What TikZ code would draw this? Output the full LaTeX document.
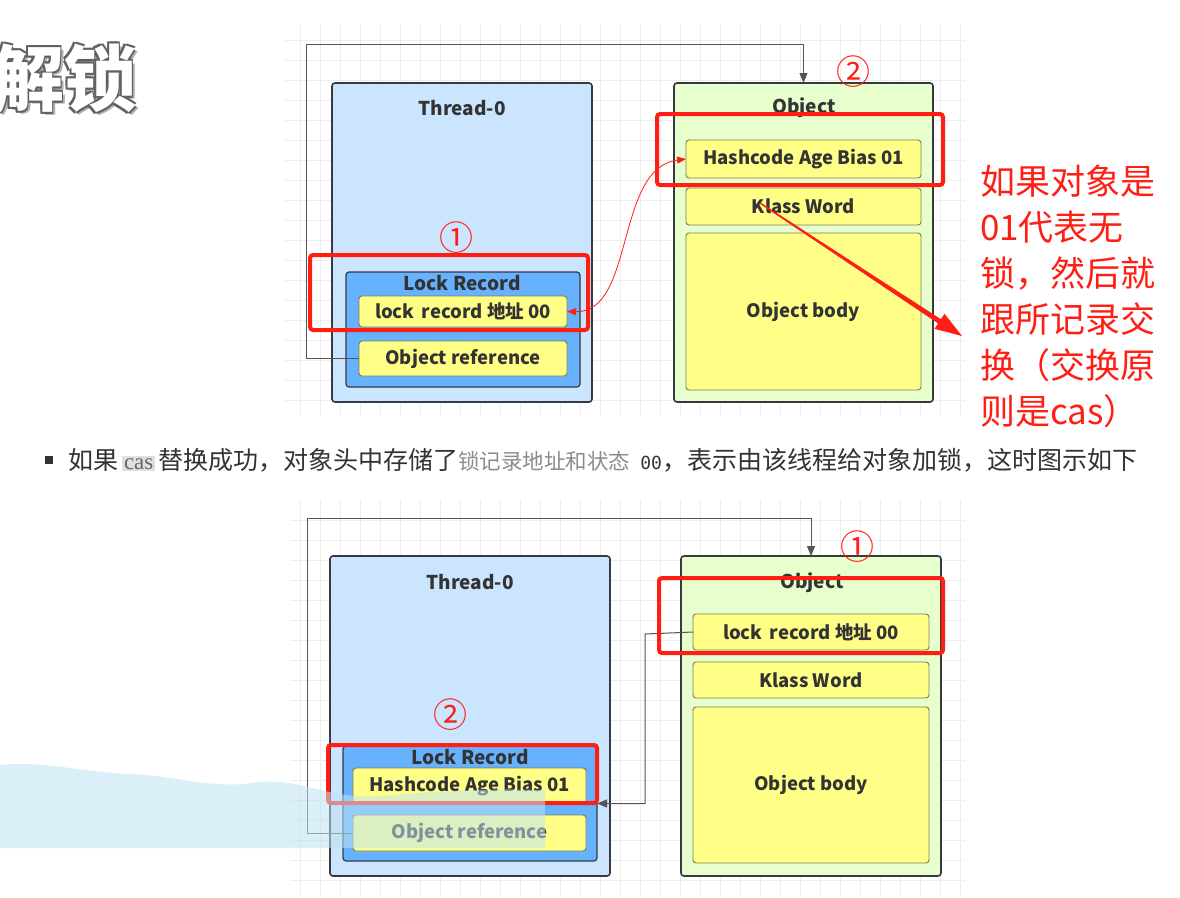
\documentclass[tikz,border=0pt]{standalone}
\usepackage{fontspec}
\setmainfont{Noto Sans CJK SC}
\newfontfamily\monof{DejaVu Sans Mono}
\newfontfamily\serf{Liberation Serif}
\usetikzlibrary{arrows.meta}
\definecolor{threadc}{HTML}{CCE5FF}
\definecolor{lockc}{HTML}{66B2FF}
\definecolor{fieldc}{HTML}{FFFF88}
\definecolor{fieldedge}{HTML}{7A7A55}
\definecolor{objc}{HTML}{E6FFCC}
\definecolor{edge}{HTML}{36393D}
\definecolor{txt}{HTML}{333333}
\definecolor{redc}{HTML}{FF1E14}
\definecolor{gridc}{HTML}{EDEDED}
\definecolor{connc}{HTML}{555555}
\definecolor{cloudc}{HTML}{BFE3F3}
\tikzset{
 every node/.style={inner sep=0pt, outer sep=0pt},
 box/.style={draw=edge, rounded corners=3pt, anchor=north west, font=\bfseries\fontsize{18.5}{20}\selectfont, text=txt},
 thread/.style={box, fill=threadc, line width=1.6pt},
 lockrec/.style={box, fill=lockc, line width=1.2pt},
 field/.style={box, fill=fieldc, line width=0.9pt, draw=fieldedge},
 object/.style={box, fill=objc, line width=1.6pt},
 title/.style={font=\bfseries\fontsize{19}{20}\selectfont, text=txt},
 redbox/.style={draw=redc, line width=4pt, rounded corners=3pt},
 circnum/.style={text=redc, font=\fontsize{34}{34}\selectfont},
 conn/.style={draw=connc, line width=1pt},
 arrowhd/.style={-{Triangle[length=10pt,width=8pt]}},
 redtext/.style={text=redc, font=\fontsize{35}{46}\selectfont, align=left, anchor=north west},
 gridlines/.style={draw=gridc, line width=0.7pt},
 titlefont/.style={anchor=east, font=\bfseries\fontsize{72}{72}\selectfont}
}
\begin{document}
\begin{tikzpicture}[x=1pt,y=-1pt]
\useasboundingbox (0,0) rectangle (1180,897);
\fill[white] (0,0) rectangle (1180,897);

% title with dark outline shadow
\node[titlefont, text=black!30] (tsh0) at (139.5,81.5) {解锁};
\foreach \dx/\dy [count=\i] in {-1.8/-1.8,1.8/-1.8,-1.8/1.8,1.8/1.8}{
  \node[titlefont, text=black!62] (tsh\i) at (136+\dx,78+\dy) {解锁};
}
\node[titlefont, text=white] (ttl) at (136,78) {解锁};

% ================= top diagram =================
\foreach \gx in {300,320,...,960} {\draw[gridlines] (\gx,25) -- (\gx,415);}
\foreach \gy in {40,60,...,400} {\draw[gridlines] (285,\gy) -- (965,\gy);}

\node[thread, minimum width=260, minimum height=319] (thr1) at (332,83) {};
\node[title] (thr1t) at (462,108) {Thread-0};
\node[lockrec, minimum width=234, minimum height=115] (lrec1) at (346,272) {};
\node[title] (lrec1t) at (462,283) {Lock Record};
\node[field, minimum width=208, minimum height=31] (lr1) at (359,296) {lock\ \,record 地址 00};
\node[field, minimum width=208, minimum height=35] (oref1) at (359,341) {Object reference};

\node[object, minimum width=259, minimum height=319] (obj1) at (674,83) {};
\node[title] (obj1t) at (804,108) {Object};
\node[field, minimum width=235, minimum height=38] (hc1) at (686,140) {Hashcode Age Bias 01};
\node[field, minimum width=235, minimum height=37] (kw1) at (686,188) {Klass Word};
\node[field, minimum width=235, minimum height=157] (ob1) at (686,233) {Object body};

\coordinate (c1) at (306,44);
\draw[conn, arrowhd] (oref1.west) -| (c1) -| (obj1.north);

\draw[redc, line width=0.8pt, {Triangle[length=9pt,width=7pt]}-{Triangle[length=9pt,width=7pt]}]
  (lr1.east) .. controls (635,313) and (615,168) .. (hc1.west);

% thick tapered arrow
\fill[redc] (759.6,203.6) -- (938.1,323.4) -- (934.5,328.8) -- (962,336) -- (944.5,313.8) -- (940.9,319.2) -- (760.4,202.4) -- cycle;

\draw[redbox] (310,255) rectangle (588,330);
\draw[redbox] (657,114) rectangle (943,185);
\node[circnum] (n1a) at (456,238) {①};
\node[circnum] (n2a) at (853,72) {②};

\node[redtext] (rt) at (980,165) {如果对象是\\01代表无\\锁，然后就\\跟所记录交\\换（交换原\\则是cas）};

% ================= middle text =================
\fill[txt] (45,456) rectangle (53,464);
\node[anchor=west, text=txt, font=\fontsize{25}{28}\selectfont] (mid) at (68,460)
 {如果\hspace{4pt}{\setlength\fboxsep{2pt}\colorbox{black!12}{\serf\color{black!60}\fontsize{23}{24}\selectfont cas}}\hspace{3pt}替换成功，对象头中存储了{\color{black!45}\fontsize{21.5}{24}\selectfont 锁记录地址和状态}\hspace{10pt}{\monof\fontsize{18}{20}\selectfont 00}，表示由该线程给对象加锁，这时图示如下};

% ================= bottom diagram =================
\foreach \gx in {300,320,...,960} {\draw[gridlines] (\gx,500) -- (\gx,895);}
\foreach \gy in {520,540,...,880} {\draw[gridlines] (290,\gy) -- (965,\gy);}

\node[thread, minimum width=280, minimum height=320] (thr2) at (330,556) {};
\node[title] (thr2t) at (470,582) {Thread-0};
\node[lockrec, minimum width=254, minimum height=115] (lrec2) at (343,746) {};
\node[title] (lrec2t) at (470,757) {Lock Record};
\node[field, minimum width=233, minimum height=36] (hc2) at (353,768) {Hashcode Age Bias 01};
\node[field, minimum width=233, minimum height=36] (oref2) at (353,815) {Object reference};

\node[object, minimum width=260, minimum height=320] (obj2) at (681,556) {};
\node[title] (obj2t) at (812,583) {Object};
\node[field, minimum width=236, minimum height=36] (lr2) at (693,614) {lock\ \,record 地址 00};
\node[field, minimum width=236, minimum height=36] (kw2) at (693,662) {Klass Word};
\node[field, minimum width=236, minimum height=156] (ob2) at (693,707) {Object body};

\coordinate (c2) at (307,518);
\draw[conn, arrowhd] (oref2.west) -| (c2) -| (obj2.north);
\coordinate (b1) at (645,634);
\draw[conn, arrowhd] (lr2.west) -- (b1) |- (lrec2.east);

\draw[redbox] (328,745) rectangle (597,803);
\draw[redbox] (659,578) rectangle (943,653);
\node[circnum] (n2b) at (450,715) {②};
\node[circnum] (n1b) at (857,547) {①};

% light blue overlay
\fill[cloudc, opacity=0.55] (0,765) .. controls (40,760) and (80,772) .. (130,774)
  .. controls (180,776) and (210,790) .. (260,782) .. controls (300,778) and (330,800) .. (380,796)
  .. controls (430,792) and (480,788) .. (545,790) -- (545,848) -- (0,848) -- cycle;
\end{tikzpicture}
\end{document}
